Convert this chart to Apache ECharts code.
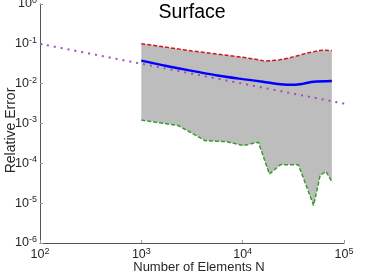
<!DOCTYPE html>
<html><head><meta charset="utf-8">
<script src="https://cdn.jsdelivr.net/npm/echarts@6/dist/echarts.min.js"></script>
<style>html,body{margin:0;padding:0;background:#fff}#c{width:382px;height:275px}</style>
</head><body><div id="c"></div>
<script>
var upperN = [1000, 1778, 3162, 5623, 10000, 12589, 16596, 22387, 29512, 42658, 57544, 66069, 75858];
var upperE = [0.101, 0.082, 0.066, 0.055, 0.046, 0.042, 0.037, 0.039, 0.045, 0.058, 0.068, 0.069, 0.068];
var meanN = [1000, 1778, 3162, 5623, 10000, 15849, 25119, 31623, 39811, 50119, 75858];
var meanE = [0.038, 0.0277, 0.021, 0.016, 0.013, 0.0112, 0.0095, 0.0094, 0.0100, 0.0112, 0.0117];
var lowerN = [1000, 2317, 4266, 6918, 10162, 14289, 18365, 23442, 35481, 50119, 58076, 66069, 75858];
var lowerE = [0.00122, 0.00089, 0.00037, 0.00035, 0.00028, 0.00034, 0.000054, 0.000092, 0.000092, 0.0000088, 0.000049, 0.000063, 0.000035];
var refN = [100, 220000];
var refE = [0.1, 0.00213];
var xTicks = [100, 1000, 10000, 100000];
var yTicks = [1e-6, 1e-5, 1e-4, 1e-3, 1e-2, 1e-1, 1];

function zip(a, b) { return a.map(function (v, i) { return [v, b[i]]; }); }
function supFmt(v) { return '10{s|' + Math.round(Math.log10(v)) + '}'; }
var FONT = 'Liberation Sans';
var labelRich = { s: { fontSize: 9, verticalAlign: 'top', padding: [0, 0, 7, 0], color: '#262626', fontFamily: FONT } };

var chart = echarts.init(document.getElementById('c'));
chart.setOption({
  animation: false,
  title: { text: 'Surface', left: 187, textAlign: 'center', top: -2,
    textStyle: { fontFamily: FONT, fontSize: 19.5, fontWeight: 'normal', color: '#000' } },
  grid: { left: 40, right: 38, top: 4, bottom: 32, containLabel: false, outerBoundsMode: 'none' },
  xAxis: {
    type: 'log', logBase: 10, min: 100, max: 100000,
    name: 'Number of Elements N', nameLocation: 'middle', nameGap: 18, nameMoveOverlap: false,
    nameTextStyle: { fontFamily: FONT, fontSize: 13, color: '#262626', padding: [0, 0, 0, 14] },
    axisLine: { show: true, lineStyle: { color: '#555', width: 1 } },
    axisTick: { show: true, inside: true, length: 3, lineStyle: { color: '#999' } },
    minorTick: { show: false }, splitLine: { show: false },
    axisLabel: { formatter: supFmt, rich: labelRich, fontFamily: FONT, fontSize: 12.5, color: '#262626', margin: 4 }
  },
  yAxis: {
    type: 'log', logBase: 10, min: 1e-6, max: 1,
    name: 'Relative Error', nameLocation: 'middle', nameGap: 22, nameMoveOverlap: false,
    nameTextStyle: { fontFamily: FONT, fontSize: 14, color: '#262626', padding: [0, 14, 0, 0] },
    axisLine: { show: true, lineStyle: { color: '#555', width: 1 } },
    axisTick: { show: true, inside: true, length: 3, lineStyle: { color: '#999' } },
    minorTick: { show: false }, splitLine: { show: false },
    axisLabel: { formatter: supFmt, rich: labelRich, fontFamily: FONT, fontSize: 12.5, color: '#262626', margin: 3 }
  },
  series: [
    {
      type: 'custom', z: 1, silent: true, clip: false,
      data: [[1000, 0.01]],
      renderItem: function (params, api) {
        var pts = [];
        for (var i = 0; i < upperN.length; i++) pts.push(api.coord([upperN[i], upperE[i]]));
        for (var j = lowerN.length - 1; j >= 0; j--) pts.push(api.coord([lowerN[j], lowerE[j]]));
        return { type: 'polygon', shape: { points: pts }, style: { fill: '#bdbdbd', stroke: null } };
      }
    },
    { type: 'line', z: 3, data: zip(upperN, upperE), showSymbol: false, symbol: 'none',
      lineStyle: { color: '#cc1a1a', width: 1.5, type: [4, 2] } },
    { type: 'line', z: 3, data: zip(lowerN, lowerE), showSymbol: false, symbol: 'none',
      lineStyle: { color: '#3a9a30', width: 1.5, type: [4, 2] } },
    { type: 'line', z: 4, data: zip(meanN, meanE), showSymbol: false, symbol: 'none', smooth: 0.3,
      lineStyle: { color: '#0000ff', width: 2.4 } },
    { type: 'line', z: 5, data: zip(refN, refE), showSymbol: false, symbol: 'none', clip: false,
      lineStyle: { color: '#9b4fc0', width: 2, type: [2, 5] } }
  ]
});
</script></body></html>
